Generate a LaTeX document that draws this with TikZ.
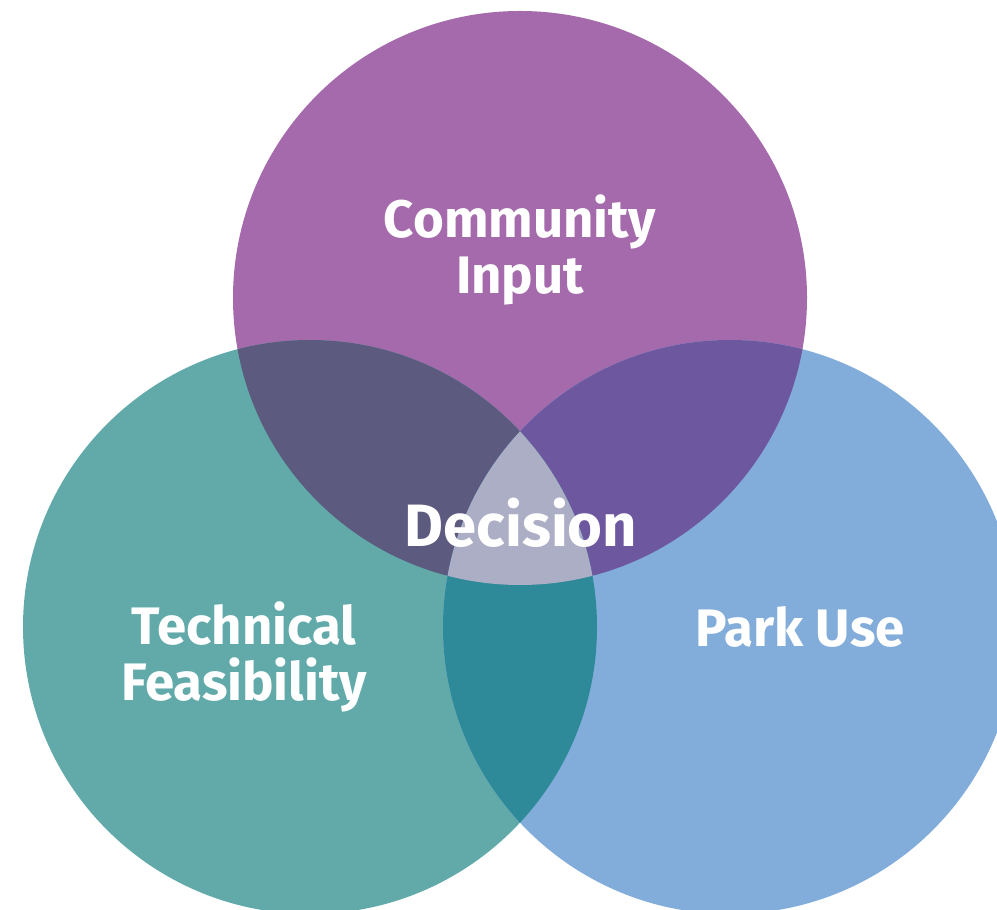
\documentclass[tikz,border=0pt]{standalone}
\usepackage{fontspec}
\setmainfont{Fira Sans}
\definecolor{cpurple}{HTML}{A56AAB}
\definecolor{cteal}{HTML}{62AAAA}
\definecolor{cblue}{HTML}{82ADDA}
\definecolor{cpt}{HTML}{5C5A7E}
\definecolor{cpb}{HTML}{6D58A0}
\definecolor{ctb}{HTML}{2E8A99}
\definecolor{call}{HTML}{ACAEC5}
\tikzset{lbl/.style={text=white,font=\bfseries\fontsize{15}{16}\selectfont,align=center,inner sep=0pt}}
\begin{document}
\begin{tikzpicture}[x=0.01cm,y=-0.01cm]
\useasboundingbox (0,0) rectangle (997,910);
\clip (0,0) rectangle (997,910);
\def\ptop{(520,298) circle[radius=287]}
\def\pleft{(310,627) circle[radius=287]}
\def\pright{(730,627) circle[radius=287]}
\fill[cpurple] \ptop;
\fill[cteal] \pleft;
\fill[cblue] \pright;
\begin{scope}\clip \ptop; \fill[cpt] \pleft; \end{scope}
\begin{scope}\clip \ptop; \fill[cpb] \pright; \end{scope}
\begin{scope}\clip \pleft; \fill[ctb] \pright; \end{scope}
\begin{scope}\clip \ptop; \clip \pleft; \fill[call] \pright; \end{scope}
\node[lbl] (ci) at (520,250) {Community\\Input};
\node[lbl] (tf) at (244,657) {Technical\\Feasibility};
\node[lbl] (pu) at (800,627) {Park Use};
\node[lbl,font=\bfseries\fontsize{17}{18}\selectfont] (dc) at (521,523) {Decision};
\end{tikzpicture}
\end{document}
